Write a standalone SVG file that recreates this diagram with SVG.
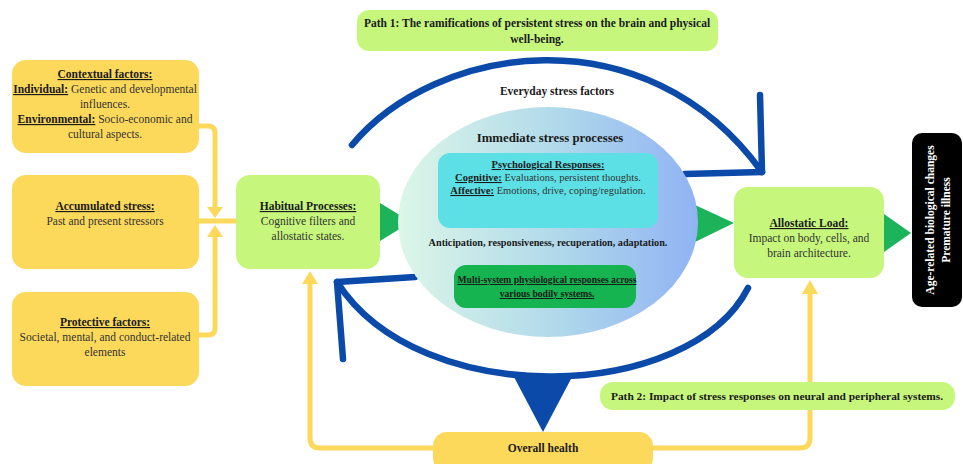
<svg xmlns="http://www.w3.org/2000/svg" width="963" height="464" viewBox="0 0 963 464">
<defs>
<linearGradient id="eg" x1="0" y1="0" x2="1" y2="0">
<stop offset="0" stop-color="#dcf6e8"/>
<stop offset="0.5" stop-color="#b3dbea"/>
<stop offset="1" stop-color="#90b3f4"/>
</linearGradient>
<style>
text{font-family:"Liberation Serif","Times New Roman",serif;fill:#333;text-anchor:middle}
.b{font-weight:bold;fill:#1a1a1a}
.u{text-decoration:underline}
.t{font-size:11.5px}
.s{font-size:10.5px}
.yb{fill:#fcd95b}
.gb{fill:#c6f77c}
.tri{fill:#1cb35b}
.yl{fill:none;stroke:#fcd95b;stroke-width:5;stroke-linejoin:round}
.ya{fill:#fcd95b}
.bl{fill:none;stroke:#0b4aa8;stroke-width:6.5;stroke-linecap:round;stroke-linejoin:round}
</style>
</defs>
<rect width="963" height="464" fill="#fff"/>

<g id="connectors">
<path class="yl" d="M199,126 H208 Q215,126 215,133 V208"/>
<polygon class="ya" points="207,207 223,207 215,218"/>
<path class="yl" d="M199,335 H208 Q215,335 215,328 V236"/>
<polygon class="ya" points="207,237 223,237 215,225"/>
<path class="yl" d="M199,221 H240"/>
<polygon class="ya" points="238,211 238,231 256,221"/>
<path class="yl" d="M433,448 H320 Q310,448 310,438 V283"/>
<polygon class="ya" points="302,284 318,284 310,271"/>
<path class="yl" d="M653,448 H800 Q810,448 810,438 V293"/>
<polygon class="ya" points="802,294 818,294 810,280"/>
<polygon class="tri" points="380,203 380,241 411,222"/>
<polygon class="tri" points="695,205 695,242 734,223"/>
<polygon class="tri" points="884,214 884,252 911,233"/>
<path class="bl" d="M352,145 C435,45 645,10 762,172"/>
<path class="bl" d="M760,95 L762,172 L685,174"/>
<path class="bl" d="M748,288 C690,402 420,412 337,282"/>
<path class="bl" d="M415,277 L337,282 L343,359"/>
<polygon fill="#0b4aa8" points="514,377 572,377 543,432"/>
</g>

<g id="path1">
<rect x="357" y="10" width="361" height="41" rx="12" class="gb"/>
<text class="b t" x="537" y="27">Path 1: The ramifications of persistent stress on the brain and physical</text>
<text class="b t" x="537" y="43">well-being.</text>
</g>

<text class="b" x="557" y="95" style="font-size:11.5px">Everyday stress factors</text>

<g id="contextual">
<rect x="12" y="60" width="187" height="93" rx="14" class="yb"/>
<text class="t" x="105" y="78"><tspan class="b u">Contextual factors:</tspan></text>
<text class="t" x="105" y="93"><tspan class="b u">Individual:</tspan> Genetic and developmental</text>
<text class="t" x="105" y="108">influences.</text>
<text class="t" x="105" y="123"><tspan class="b u">Environmental:</tspan> Socio-economic and</text>
<text class="t" x="105" y="138">cultural aspects.</text>
</g>

<g id="accumulated">
<rect x="12" y="175" width="187" height="94" rx="14" class="yb"/>
<text class="t" x="105" y="210"><tspan class="b u">Accumulated stress:</tspan></text>
<text class="t" x="105" y="225">Past and present stressors</text>
</g>

<g id="protective">
<rect x="12" y="292" width="187" height="94" rx="14" class="yb"/>
<text class="t" x="105" y="326"><tspan class="b u">Protective factors:</tspan></text>
<text class="t" x="105" y="341">Societal, mental, and conduct-related</text>
<text class="t" x="105" y="356">elements</text>
</g>

<g id="habitual">
<rect x="236" y="175" width="144" height="94" rx="14" class="gb"/>
<text class="t" x="308" y="210"><tspan class="b u">Habitual Processes:</tspan></text>
<text class="t" x="308" y="225">Cognitive filters and</text>
<text class="t" x="308" y="240">allostatic states.</text>
</g>

<g id="immediate">
<ellipse cx="548" cy="222" rx="150" ry="115" fill="url(#eg)"/>
<text class="b" x="550" y="142" style="font-size:12.8px">Immediate stress processes</text>
</g>

<g id="psychological">
<rect x="438" y="153" width="220" height="75" rx="12" fill="#5ce0e6"/>
<text class="s" x="548" y="168"><tspan class="b u">Psychological Responses:</tspan></text>
<text class="s" x="548" y="181"><tspan class="b u">Cognitive:</tspan> Evaluations, persistent thoughts.</text>
<text class="s" x="548" y="194"><tspan class="b u">Affective:</tspan> Emotions, drive, coping/regulation.</text>
</g>

<text class="b" x="548" y="246" style="font-size:10.2px">Anticipation, responsiveness, recuperation, adaptation.</text>

<g id="multisystem">
<rect x="454" y="265" width="182" height="43" rx="12" fill="#16b451"/>
<text class="b u" x="547" y="283" style="font-size:9.6px">Multi-system physiological responses across</text>
<text class="b u" x="547" y="297" style="font-size:9.6px">various bodily systems.</text>
</g>

<g id="allostatic">
<rect x="734" y="187" width="150" height="91" rx="14" class="gb"/>
<text class="t" x="809" y="227"><tspan class="b u">Allostatic Load:</tspan></text>
<text class="t" x="809" y="242">Impact on body, cells, and</text>
<text class="t" x="809" y="257">brain architecture.</text>
</g>

<g id="outcomes">
<rect x="912" y="133" width="50" height="174" rx="10" fill="#000"/>
<text class="b" x="0" y="0" style="font-size:11.5px;fill:#fff" transform="translate(934,220) rotate(-90)">Age-related biological changes</text>
<text class="b" x="0" y="0" style="font-size:11.5px;fill:#fff" transform="translate(950,220) rotate(-90)">Premature illness</text>
</g>

<g id="path2">
<rect x="600" y="382" width="355" height="28" rx="13" class="gb"/>
<text class="b" x="777" y="400" style="font-size:11.4px">Path 2: Impact of stress responses on neural and peripheral systems.</text>
</g>

<g id="overall">
<rect x="433" y="432" width="220" height="40" rx="14" class="yb"/>
<text class="b" x="543" y="452" style="font-size:11.5px">Overall health</text>
</g>
</svg>
